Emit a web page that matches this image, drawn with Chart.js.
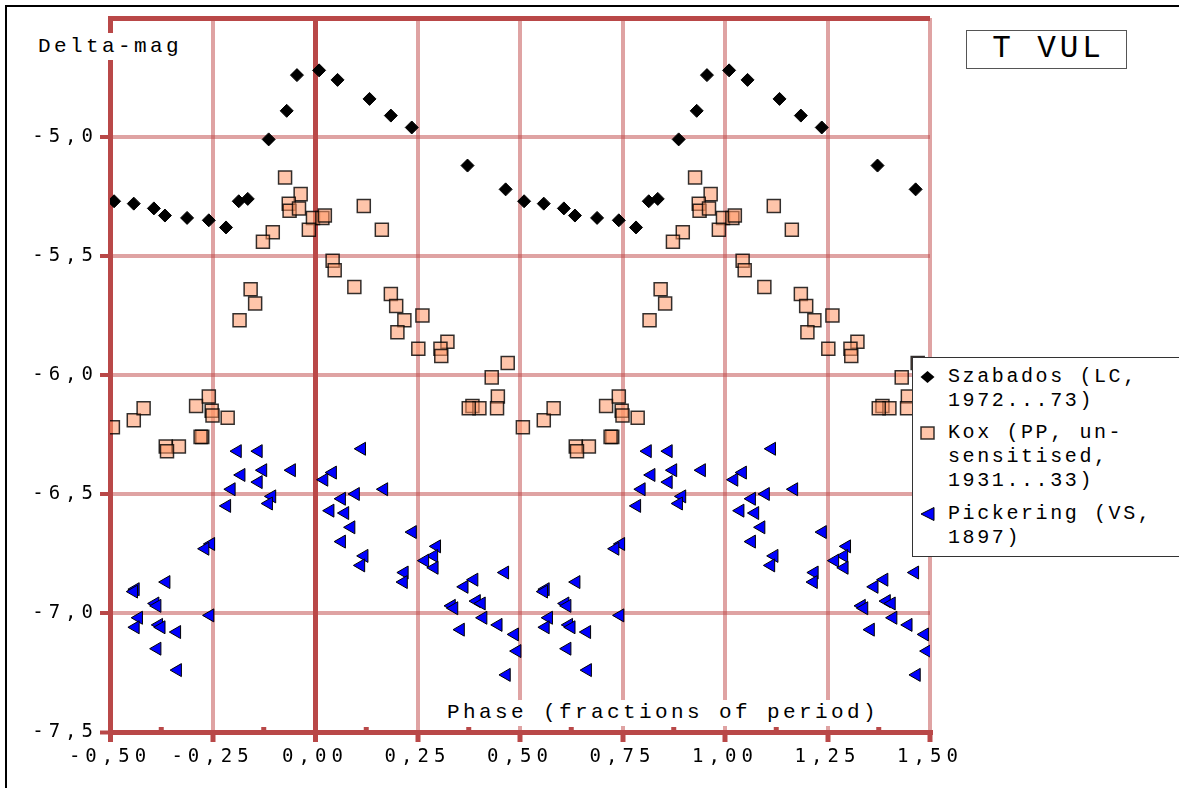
<!DOCTYPE html>
<html>
<head>
<meta charset="utf-8">
<script src="https://cdn.jsdelivr.net/npm/chart.js@4.4.1/dist/chart.umd.min.js"></script>
<style>
body { margin: 0; background: #fff; }
#wrap { position: relative; width: 1179px; height: 788px; overflow: hidden; background: #fff; }
#chart { position: absolute; left: 0; top: 0; }
#frame { position: absolute; left: 5px; top: 5px; width: 1300px; height: 900px; border-left: 2px solid #000; border-top: 2px solid #000; }
.txt { position: absolute; font-family: "Liberation Mono", "Courier New", monospace; color: #000; white-space: pre; }
.boxed { background: #fff; }
#ylab { left: 30px; top: 33px; width: 160px; height: 27px; line-height: 27px; padding-left: 8px; box-sizing: border-box; font-size: 21px; letter-spacing: 3.4px; }
#xlab { left: 440px; top: 700px; width: 440px; height: 26px; line-height: 26px; padding-left: 7px; box-sizing: border-box; font-size: 21px; letter-spacing: 3.4px; }
#title { left: 966px; top: 30px; width: 161px; height: 39px; border: 1.5px solid #555; box-sizing: border-box; background: #fff; text-align: center; line-height: 36px; font-size: 31px; letter-spacing: 3.9px; padding-left: 4px; }
#legend { position: absolute; left: 912px; top: 357px; width: 300px; height: 200px; border: 1.5px solid #333; box-sizing: border-box; background: #fff; }
.leg { font-size: 20px; letter-spacing: 2.6px; line-height: 24px; left: 948px; }
.mk { position: absolute; }
</style>
</head>
<body>
<div id="wrap">
  <canvas id="chart" width="1179" height="788"></canvas>
  <div id="frame"></div>
  <div class="txt boxed" id="ylab">Delta-mag</div>
  <div class="txt boxed" id="xlab">Phase (fractions of period)</div>
  <div class="txt" id="title">T VUL</div>
  <div id="legend"></div>
  <svg class="mk" style="left:920px;top:370px" width="15" height="14"><polygon points="0.5,7 7.5,1 14.5,7 7.5,13" fill="#000"/></svg>
  <div class="txt leg" style="top:365px">Szabados (LC,
1972...73)</div>
  <svg class="mk" style="left:920px;top:426px" width="15" height="14"><rect x="1" y="1" width="13" height="12" fill="rgba(255,150,100,0.55)" stroke="rgba(0,0,0,0.8)" stroke-width="1.5"/></svg>
  <div class="txt leg" style="top:421px">Kox (PP, un-
sensitised,
1931...33)</div>
  <svg class="mk" style="left:920px;top:507px" width="15" height="14"><polygon points="1,7 14,0.5 14,13.5" fill="#0000ff" stroke="#000" stroke-width="1"/></svg>
  <div class="txt leg" style="top:502px">Pickering (VS,
1897)</div>
</div>
<script>
// Observations, phase in (-0.5, 0.5); each one is drawn again one period later
const szabadosPhase = [-0.490, -0.442, -0.393, -0.366, -0.312, -0.259, -0.217, -0.186, -0.164, -0.113,
  -0.069, -0.044, 0.010, 0.055, 0.133, 0.185, 0.236, 0.372, 0.465];
const szabadosMag = [-5.27, -5.28, -5.30, -5.33, -5.34, -5.35, -5.38, -5.27, -5.26, -5.01,
  -4.89, -4.74, -4.72, -4.76, -4.84, -4.91, -4.96, -5.12, -5.22];

const koxPhase = [-0.073, -0.035, -0.064, -0.062, -0.039, -0.005, 0.018, 0.024, -0.015, -0.103,
  -0.127, 0.119, 0.163, 0.043, 0.048, 0.096, -0.157, -0.146, -0.184, 0.185,
  0.198, 0.218, 0.262, 0.201, 0.252, 0.323, 0.306, 0.308, 0.470, 0.431,
  0.446, 0.444, 0.384, 0.401, 0.375, -0.493, -0.442, -0.418, -0.290, -0.259,
  -0.252, -0.250, -0.213, -0.275, -0.279, -0.364, -0.332, -0.361];
const koxMag = [-5.17, -5.24, -5.28, -5.31, -5.30, -5.34, -5.34, -5.33, -5.39, -5.40,
  -5.44, -5.29, -5.39, -5.52, -5.56, -5.63, -5.64, -5.70, -5.77, -5.66,
  -5.71, -5.77, -5.75, -5.82, -5.89, -5.86, -5.89, -5.92, -5.95, -6.01,
  -6.09, -6.14, -6.13, -6.14, -6.14, -6.22, -6.19, -6.14, -6.13, -6.09,
  -6.15, -6.17, -6.18, -6.26, -6.26, -6.30, -6.30, -6.32];

const pickeringPhase = [-0.189, -0.138, 0.114, -0.180, -0.127, -0.057, -0.138, -0.204, -0.105, -0.113,
  -0.215, 0.043, 0.022, 0.099, 0.065, 0.168, 0.037, 0.073, 0.088, 0.065,
  0.238, -0.254, -0.268, 0.120, 0.112, 0.297, 0.290, 0.268, 0.291, 0.218,
  0.216, -0.363, -0.438, -0.442, -0.390, -0.385, 0.388, 0.364, 0.463, 0.394,
  0.406, 0.333, 0.339, -0.256, -0.430, -0.438, -0.381, -0.375, -0.337, -0.385,
  -0.335, 0.410, 0.447, 0.487, 0.355, 0.493, 0.467];
const pickeringMag = [-6.32, -6.32, -6.31, -6.42, -6.40, -6.40, -6.45, -6.48, -6.51, -6.54,
  -6.55, -6.41, -6.44, -6.50, -6.52, -6.48, -6.57, -6.58, -6.64, -6.70,
  -6.66, -6.71, -6.73, -6.76, -6.80, -6.72, -6.76, -6.78, -6.81, -6.83,
  -6.87, -6.87, -6.90, -6.91, -6.96, -6.97, -6.86, -6.89, -6.83, -6.95,
  -6.96, -6.97, -6.98, -7.01, -7.02, -7.06, -7.05, -7.06, -7.08, -7.15,
  -7.24, -7.02, -7.05, -7.09, -7.07, -7.16, -7.26];

const minorPhaseTicks = [-0.375, -0.125, 0.125, 0.375, 0.625, 0.875, 1.125, 1.375];

const AXIS = '#b94848';
const GRID = 'rgba(192,72,72,0.5)';

function twoCycles(phase, mag) {
    const pts = [];
    phase.forEach((p, i) => {
        pts.push({ x: p, y: mag[i] });
        pts.push({ x: p + 1, y: mag[i] });
    });
    return pts;
}

const near = (a, b) => Math.abs(a - b) < 1e-6;

// tick labels in the original are widely spaced
const spacing = {
    id: 'spacing',
    beforeDraw(chart) { chart.ctx.letterSpacing = '5px'; },
    beforeDatasetsDraw(chart) { chart.ctx.letterSpacing = '0px'; }
};

// small inner ticks between the labelled phases
const minorTicks = {
    id: 'minorTicks',
    beforeDatasetsDraw(chart) {
        const sx = chart.scales.x, c = chart.ctx;
        c.save();
        c.fillStyle = AXIS;
        minorPhaseTicks.forEach(v => {
            const px = sx.getPixelForValue(v);
            c.fillRect(px - 2.5, sx.top - 5, 5, 5);
        });
        c.restore();
    }
};

const tickFont = { family: 'DejaVu Sans Mono', size: 19 };

new Chart(document.getElementById('chart').getContext('2d'), {
    type: 'scatter',
    data: {
        datasets: [
            { label: 'Szabados (LC, 1972...73)', data: twoCycles(szabadosPhase, szabadosMag),
              pointStyle: 'rectRot', pointRadius: 6.5, backgroundColor: '#000', borderColor: '#000', borderWidth: 1 },
            { label: 'Kox (PP, unsensitised, 1931...33)', data: twoCycles(koxPhase, koxMag),
              pointStyle: 'rect', pointRadius: 9.2, backgroundColor: 'rgba(255,150,100,0.55)', borderColor: 'rgba(0,0,0,0.8)', borderWidth: 1.5 },
            { label: 'Pickering (VS, 1897)', data: twoCycles(pickeringPhase, pickeringMag),
              pointStyle: 'triangle', pointRotation: -90, pointRadius: 7.5, backgroundColor: '#0000ff', borderColor: '#000', borderWidth: 1 }
        ]
    },
    options: {
        responsive: false,
        animation: false,
        events: [],
        layout: { padding: { left: 0, top: 18, right: 249, bottom: 0 } },
        plugins: { legend: { display: false }, tooltip: { enabled: false } },
        scales: {
            x: {
                type: 'linear', min: -0.5, max: 1.5,
                afterFit(s) { s.height = 56; },
                ticks: { stepSize: 0.25, autoSkip: false, maxRotation: 0, padding: 4, color: '#000', font: tickFont,
                         callback: v => v.toFixed(2).replace('.', ',') },
                grid: {
                    color: c => (near(c.tick.value, 0) || near(c.tick.value, -0.5)) ? AXIS : GRID,
                    lineWidth: c => (near(c.tick.value, 0) || near(c.tick.value, -0.5)) ? 5 : 4,
                    tickLength: 10, tickColor: AXIS, tickWidth: 5
                },
                border: { color: AXIS, width: 5 }
            },
            y: {
                type: 'linear', min: -7.5, max: -4.5,
                afterFit(s) { s.width = 110; },
                ticks: { stepSize: 0.5, padding: 2, color: '#000', font: tickFont,
                         callback: v => v > -4.75 ? '' : v.toFixed(1).replace('.', ',') },
                grid: {
                    color: c => (near(c.tick.value, -4.5) || near(c.tick.value, -7.5)) ? AXIS : GRID,
                    lineWidth: c => (near(c.tick.value, -4.5) || near(c.tick.value, -7.5)) ? 5 : 4,
                    tickLength: 10, tickWidth: 4,
                    tickColor: c => near(c.tick.value, -4.5) ? 'rgba(0,0,0,0)' : AXIS
                },
                border: { color: AXIS, width: 5 }
            }
        }
    },
    plugins: [spacing, minorTicks]
});
</script>
</body>
</html>
